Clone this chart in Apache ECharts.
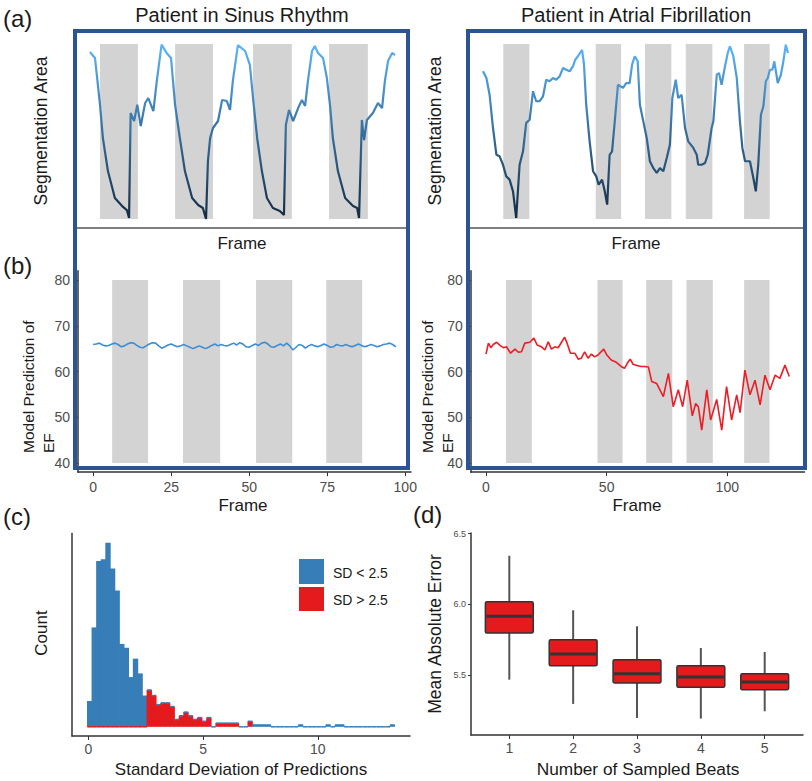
<!DOCTYPE html>
<html><head><meta charset="utf-8">
<script src="https://cdn.jsdelivr.net/npm/echarts@6/dist/echarts.min.js"></script>
<style>html,body{margin:0;padding:0;background:#fff}#c{width:812px;height:781px}</style>
</head><body><div id="c"></div>
<script>
// ---------- DATA ----------
// (a) segmentation area, [frame, relative area]
const sinusArea = [[0.3,95.4],[1.9,92.0],[3.5,65.1],[4.4,46.3],[6.0,27.4],[8.2,12.0],[10.5,7.4],[12.0,5.1],[12.7,0.6],[13.2,60.6],[14.3,56.0],[15.3,65.3],[16.4,53.1],[17.8,66.3],[18.8,69.1],[20.4,61.7],[21.5,78.9],[23.0,99.6],[24.6,94.9],[26.0,92.0],[27.3,65.1],[28.8,46.3],[30.4,27.4],[32.7,12.0],[34.6,8.0],[36.1,6.3],[37.1,0.0],[37.7,33.1],[38.4,46.3],[39.3,52.0],[40.9,56.0],[42.2,68.0],[43.7,67.4],[44.7,62.3],[45.6,78.9],[47.2,99.4],[49.5,96.0],[51.0,88.0],[52.0,69.1],[53.3,46.3],[54.8,27.4],[56.4,12.0],[58.3,6.3],[60.5,4.6],[61.8,2.3],[62.4,53.7],[63.4,62.3],[64.7,56.0],[66.3,63.4],[67.5,68.0],[68.5,64.6],[69.4,78.9],[70.7,96.0],[71.6,98.9],[72.6,94.9],[74.2,92.0],[75.4,80.6],[76.4,65.1],[77.3,46.3],[78.9,27.4],[81.2,12.0],[83.7,7.4],[85.0,6.3],[85.6,0.6],[86.5,56.6],[87.2,45.1],[88.1,56.6],[90.0,60.6],[91.6,66.3],[92.9,63.4],[93.8,78.9],[94.8,90.3],[96.1,94.9],[97.0,93.7]];
const afibArea = [[0,84.4],[1.4,80.6],[2.7,71.0],[4.1,52.0],[5.5,36.7],[6.8,35.8],[8.2,31.0],[9.5,24.4],[10.9,22.5],[12.3,15.8],[13.6,0.6],[15.0,31.0],[16.4,38.7],[17.7,54.9],[19.1,56.7],[20.5,73.0],[21.8,67.3],[23.2,67.3],[24.6,70.1],[25.9,79.6],[27.3,78.7],[28.7,80.6],[30.0,79.6],[31.4,81.5],[32.8,86.3],[34.1,85.3],[35.5,84.4],[36.9,87.3],[37.8,91.0],[38.9,93.0],[40.6,96.7],[41.4,88.2],[42.3,65.3],[43.7,44.4],[45.1,27.3],[46.4,24.4],[47.4,19.6],[48.8,22.5],[49.9,15.8],[50.9,8.2],[51.9,36.7],[52.9,38.7],[54.0,55.8],[55.3,76.7],[57.4,74.9],[58.7,77.7],[60.1,77.7],[61.1,88.2],[62.2,93.0],[63.4,90.1],[64.3,65.3],[65.7,55.8],[67.1,46.3],[68.4,33.0],[69.8,29.1],[71.2,26.3],[72.5,29.1],[73.9,27.3],[75.3,34.9],[76.6,42.5],[77.6,69.1],[79.0,79.6],[80.0,69.1],[81.4,71.0],[82.8,52.0],[84.1,44.4],[86.2,40.6],[87.6,36.7],[88.2,31.0],[89.6,31.0],[91.0,32.0],[92.1,36.7],[93.7,52.0],[94.4,55.8],[95.8,82.5],[96.7,83.4],[97.8,76.7],[98.9,85.3],[100.3,94.9],[101.2,98.7],[102.6,93.0],[104.0,80.6],[105.3,55.8],[106.3,40.6],[107.4,33.0],[109.4,33.0],[110.8,23.4],[111.8,15.8],[112.8,31.0],[113.9,59.6],[114.9,64.4],[115.9,78.7],[116.7,80.6],[117.6,85.3],[118.6,85.3],[119.4,90.1],[120.8,77.7],[122.1,82.5],[123.1,90.1],[124.1,99.6],[125.0,94.9]];
// shaded frame ranges
const sinusAreaShade = [[3.5,15.5],[27.3,39.3],[52.0,64.3],[76.1,88.4]];
const sinusPredShade = [[6.1,17.6],[28.8,40.7],[52.2,63.8],[74.7,86.2]];
const afibShade = [[8.3,19.0],[46.2,56.6],[66.4,77.2],[83.1,94.0],[107.0,117.5]];
// (b) model EF predictions
const sinusPred = [65.9,66.0,66.2,65.8,65.6,65.7,66.0,66.2,65.9,65.4,65.6,66.0,66.3,66.2,65.7,65.3,65.2,65.6,66.0,66.3,66.2,65.6,65.1,65.4,65.8,66.0,65.7,65.4,65.6,65.9,65.6,65.3,65.0,65.3,65.6,65.3,65.0,65.3,65.7,66.0,65.6,65.9,65.7,65.6,65.9,66.2,65.8,66.3,66.0,65.4,65.3,65.7,66.0,65.7,66.2,66.4,66.0,65.4,65.3,65.7,66.0,65.6,66.2,65.6,64.7,65.3,65.9,65.7,65.1,65.6,65.9,65.6,65.4,65.7,66.0,65.7,65.3,65.4,65.9,65.7,65.6,65.9,65.6,65.4,65.7,66.0,65.7,65.4,65.6,65.9,65.7,65.4,65.6,65.9,66.0,66.2,65.9,65.4];
const afibPred = [[0,63.8],[1,66.2],[2,65.2],[3,65.9],[4.4,66.4],[5.8,65.7],[7.2,65.2],[8.5,65.4],[10.2,64.0],[12,64.9],[13.4,64.2],[14.7,64.3],[16.1,66.2],[18.2,66.4],[19.8,67.3],[21.2,65.8],[23,65.4],[24.4,64.7],[25.8,66.5],[27.1,64.9],[28.5,65.4],[29.9,65.2],[31.3,66.4],[32.6,67.5],[33.6,66.2],[35,64.0],[36.8,64.0],[38.2,62.7],[39.5,62.9],[40.9,64.3],[42.3,62.9],[43.7,63.8],[45,63.2],[46.4,63.6],[48.8,64.9],[50.1,63.6],[51.9,62.5],[54,62.0],[56,61.1],[57.4,60.7],[58.8,62.0],[59.8,62.7],[60.9,61.6],[62.5,61.3],[64.3,61.1],[65.7,61.1],[67.3,61.0],[68.7,57.8],[70.7,57.4],[73.5,54.5],[75.6,59.6],[77.6,52.3],[79.7,56.0],[81.5,52.3],[83.4,58.1],[85.5,50.3],[86.9,53.0],[88,52.3],[89.4,47.2],[91.5,56.0],[93.1,49.4],[95.6,53.9],[97.7,47.2],[99.7,56.7],[101.8,49.4],[103.9,54.9],[105.3,51.0],[107.3,60.3],[109.4,54.9],[111.5,58.1],[113.6,52.7],[115.6,59.2],[117.7,56.0],[119.8,59.2],[121.8,58.5],[123.9,61.4],[125.7,58.9]];
// (c) histogram of prediction SD
const histBinStart = -0.05;
const histBinWidth = 0.2;
const histCountsLow = [14,54,90,91,100,86,74,45,43,27,37,29,17];
const histCountsHigh = [20,17,12,13,13,11,4,6,8,6,4,5,3,5,0,2,2,2,2,2,0,0,3];
const histCountsTail = [1,1,1,1,0,0,0,0,0,0,1,0,0,0,0,0,1,0,1,1,0,0,0,0,0,0,0,0,0,0,1];
// (d) boxplots of MAE
const beats = [1,2,3,4,5];
const maeLow  = [5.467,5.295,5.196,5.191,5.243];
const maeQ1   = [5.797,5.566,5.443,5.413,5.396];
const maeMed  = [5.915,5.649,5.509,5.486,5.450];
const maeQ3   = [6.019,5.750,5.608,5.566,5.509];
const maeHigh = [6.344,5.958,5.844,5.691,5.663];

// ---------- CHART ----------
const FONT = 'Liberation Sans, Arial, sans-serif';
const chart = echarts.init(document.getElementById('c'), null, {renderer:'svg'});

function shade(xi, ranges, y0, y1){
  return {type:'custom', xAxisIndex:xi, yAxisIndex:xi, z:1, silent:true,
    encode:{x:[0,1]},
    data: ranges.map(r=>[r[0], r[1]]),
    renderItem:(p, api)=>{
      const a = api.coord([api.value(0), y1]);
      const b = api.coord([api.value(1), y0]);
      return {type:'rect', shape:{x:a[0], y:a[1], width:b[0]-a[0], height:b[1]-a[1]}, style:{fill:'#D3D3D3'}};
    }};
}
const areaGrad = {type:'linear', x:0, y:0, x2:0, y2:1, colorStops:[{offset:0,color:'#5AB4F8'},{offset:1,color:'#132B43'}]};

const allCounts = histCountsLow.concat(histCountsHigh, histCountsTail);
const nLow = histCountsLow.length, nHigh = histCountsHigh.length;
const histData = allCounts.map((c,i)=>[histBinStart+i*histBinWidth, histBinStart+(i+1)*histBinWidth, c, i<nLow?0:(i<nLow+nHigh?1:2)]);

const axisBase = (gi, min, max, labels, extra) => Object.assign({
  gridIndex:gi, type:'value', min:min, max:max,
  axisLine:{show:true, onZero:false, lineStyle:{color:'#333', width:1.5}},
  axisTick:{show:true, length:4, lineStyle:{color:'#333'}, customValues:labels},
  axisLabel:{show:true, color:'#4D4D4D', fontSize:14, fontFamily:FONT, customValues:labels},
  splitLine:{show:false}
}, extra||{});
const lab = (vals, margin, size, fmt) => ({show:true, color:'#4D4D4D', fontSize:size||14, fontFamily:FONT, margin:margin, customValues:vals, formatter:fmt});

const grids = [
  {left:89, top:44, width:306, height:175},
  {left:483, top:44, width:305, height:175},
  {left:78, top:270.85, width:333, height:201.3},
  {left:470.8, top:270.85, width:333.7, height:201.3},
  {left:72, top:533.5, width:338, height:202.5},
  {left:471, top:533, width:332, height:202}
].map(g=>Object.assign(g,{containLabel:false, outerBoundsMode:'none'}));

const txt = (x,y,text,size,opts) => Object.assign({type:'text', x:x, y:y, z:120,
  style:Object.assign({text:text, font:'normal '+size+'px '+FONT, fill:'#1a1a1a', textAlign:'center', textVerticalAlign:'middle'}, (opts&&opts.style)||{})},
  (opts&&opts.rotation!==undefined)?{rotation:opts.rotation}:{});

const option = {
  animation:false,
  backgroundColor:'#fff',
  grid: grids,
  xAxis: [
    {gridIndex:0, type:'value', min:0, max:97, show:false},
    {gridIndex:1, type:'value', min:0, max:125, show:false},
    axisBase(2, -4.85, 101.85, [0,25,50,75,100], {axisLabel:lab([0,25,50,75,100],8)}),
    axisBase(3, -6.3, 132, [0,50,100], {axisLabel:lab([0,50,100],8)}),
    axisBase(4, -0.72, 14.02, [0,5,10], {axisLabel:lab([0,5,10],6)}),
    axisBase(5, 0.4, 5.6, beats, {axisLabel:lab(beats,6)})
  ],
  yAxis: [
    {gridIndex:0, type:'value', min:0, max:100, show:false},
    {gridIndex:1, type:'value', min:0, max:100, show:false},
    axisBase(2, 38, 82, [40,50,60,70,80], {axisLabel:lab([40,50,60,70,80],8)}),
    axisBase(3, 38, 82, [40,50,60,70,80], {axisLabel:lab([40,50,60,70,80],8)}),
    axisBase(4, -5, 105, [], {axisLabel:{show:false}, axisTick:{show:false}}),
    axisBase(5, 5.075, 6.505, [5.5,6.0,6.5], {axisTick:{show:true,length:3,lineStyle:{color:'#333'},customValues:[5.5,6.0,6.5]}, axisLabel:lab([5.5,6.0,6.5],5,9,v=>v.toFixed(1))})
  ],
  series: [
    shade(0, sinusAreaShade, 0, 100),
    shade(1, afibShade, 0, 100),
    shade(2, sinusPredShade, 40, 80),
    shade(3, afibShade, 40, 80),
    {type:'line', xAxisIndex:0, yAxisIndex:0, data:sinusArea, showSymbol:false, z:3,
      lineStyle:{width:2.2, color:areaGrad}},
    {type:'line', xAxisIndex:1, yAxisIndex:1, data:afibArea, showSymbol:false, z:3,
      lineStyle:{width:2.2, color:areaGrad}},
    {type:'line', xAxisIndex:2, yAxisIndex:2, data:sinusPred.map((v,i)=>[i,v]), showSymbol:false, z:3,
      lineStyle:{width:1.6, color:'#3B8ED6'}},
    {type:'line', xAxisIndex:3, yAxisIndex:3, data:afibPred, showSymbol:false, z:3,
      lineStyle:{width:1.6, color:'#EE1C24'}},
    {type:'custom', xAxisIndex:4, yAxisIndex:4, z:3, encode:{x:[0,1], y:2}, data:histData,
      renderItem:(p, api)=>{
        const x0=api.value(0), x1=api.value(1), c=api.value(2), g=api.value(3);
        const a=api.coord([x0,c]), b=api.coord([x1,0]);
        const kids=[];
        if(c>0){
          kids.push({type:'rect', shape:{x:a[0]-0.4, y:a[1], width:b[0]-a[0]+0.8, height:b[1]-a[1]},
            style:{fill: g===1?'#E41A1C':'#377EB8'}});
        }
        if(g===0){
          kids.push({type:'line', shape:{x1:a[0], y1:b[1], x2:b[0], y2:b[1]}, style:{stroke:'#E41A1C', lineWidth:1.5}});
        } else {
          kids.push({type:'line', shape:{x1:a[0], y1:a[1], x2:b[0], y2:a[1]}, style:{stroke:'#377EB8', lineWidth:1.5}});
        }
        return {type:'group', children:kids};
      }},
    {type:'custom', xAxisIndex:5, yAxisIndex:5, z:3, encode:{x:0, y:[1,2,3,4,5]},
      data: beats.map((b,i)=>[b, maeLow[i], maeQ1[i], maeMed[i], maeQ3[i], maeHigh[i]]),
      renderItem:(p, api)=>{
        const x=api.value(0);
        const lo=api.coord([x,api.value(1)]), q1=api.coord([x,api.value(2)]), md=api.coord([x,api.value(3)]),
              q3=api.coord([x,api.value(4)]), hi=api.coord([x,api.value(5)]);
        const hw=api.size([0.75,0])[0]/2;
        return {type:'group', children:[
          {type:'line', shape:{x1:lo[0],y1:lo[1],x2:q1[0],y2:q1[1]}, style:{stroke:'#555', lineWidth:2}},
          {type:'line', shape:{x1:q3[0],y1:q3[1],x2:hi[0],y2:hi[1]}, style:{stroke:'#555', lineWidth:2}},
          {type:'rect', shape:{x:q3[0]-hw, y:q3[1], width:2*hw, height:q1[1]-q3[1], r:1.5}, style:{fill:'#E41A1C', stroke:'#333', lineWidth:1.5}},
          {type:'line', shape:{x1:md[0]-hw+1,y1:md[1],x2:md[0]+hw-1,y2:md[1]}, style:{stroke:'#333', lineWidth:3}}
        ]};
      }}
  ],
  graphic: [
    // panel frames
    {type:'rect', z:100, shape:{x:75, y:31, width:333, height:437}, style:{fill:'none', stroke:'#2C5494', lineWidth:4}},
    {type:'rect', z:100, shape:{x:468, y:31, width:337, height:437}, style:{fill:'none', stroke:'#2C5494', lineWidth:4}},
    {type:'line', z:99, shape:{x1:77, y1:228, x2:406, y2:228}, style:{stroke:'#7F7F7F', lineWidth:2}},
    {type:'line', z:99, shape:{x1:470, y1:228, x2:803, y2:228}, style:{stroke:'#7F7F7F', lineWidth:2}},
    // panel letters
    txt(3,18,'(a)',24,{style:{textAlign:'left'}}),
    txt(3,265,'(b)',24,{style:{textAlign:'left'}}),
    txt(3,516,'(c)',24,{style:{textAlign:'left'}}),
    txt(413,514,'(d)',24,{style:{textAlign:'left'}}),
    // titles
    txt(242,15,'Patient in Sinus Rhythm',20),
    txt(636,15,'Patient in Atrial Fibrillation',20),
    // (a) labels
    txt(41,131,'Segmentation Area',17.5,{rotation:Math.PI/2}),
    txt(435,131,'Segmentation Area',17.5,{rotation:Math.PI/2}),
    txt(242,243,'Frame',17),
    txt(636,243,'Frame',17),
    // (b) labels
    txt(38,453,'Model Prediction of\nEF',15.5,{rotation:Math.PI/2, style:{textAlign:'left', lineHeight:20}}),
    txt(437.5,453,'Model Prediction of\nEF',15.5,{rotation:Math.PI/2, style:{textAlign:'left', lineHeight:20}}),
    txt(243,505,'Frame',17),
    txt(637,505,'Frame',17),
    // (c) labels + legend
    txt(41,633,'Count',17,{rotation:Math.PI/2}),
    txt(241,769,'Standard Deviation of Predictions',17),
    {type:'rect', z:110, shape:{x:299, y:559, width:25, height:25}, style:{fill:'#377EB8'}},
    {type:'rect', z:110, shape:{x:299, y:587, width:25, height:24}, style:{fill:'#E41A1C'}},
    txt(333,573,'SD < 2.5',14,{style:{textAlign:'left'}}),
    txt(333,600,'SD > 2.5',14,{style:{textAlign:'left'}}),
    // (d) labels
    txt(435,634,'Mean Absolute Error',17.5,{rotation:Math.PI/2}),
    txt(638,769,'Number of Sampled Beats',17.3)
  ]
};
chart.setOption(option);
</script></body></html>
